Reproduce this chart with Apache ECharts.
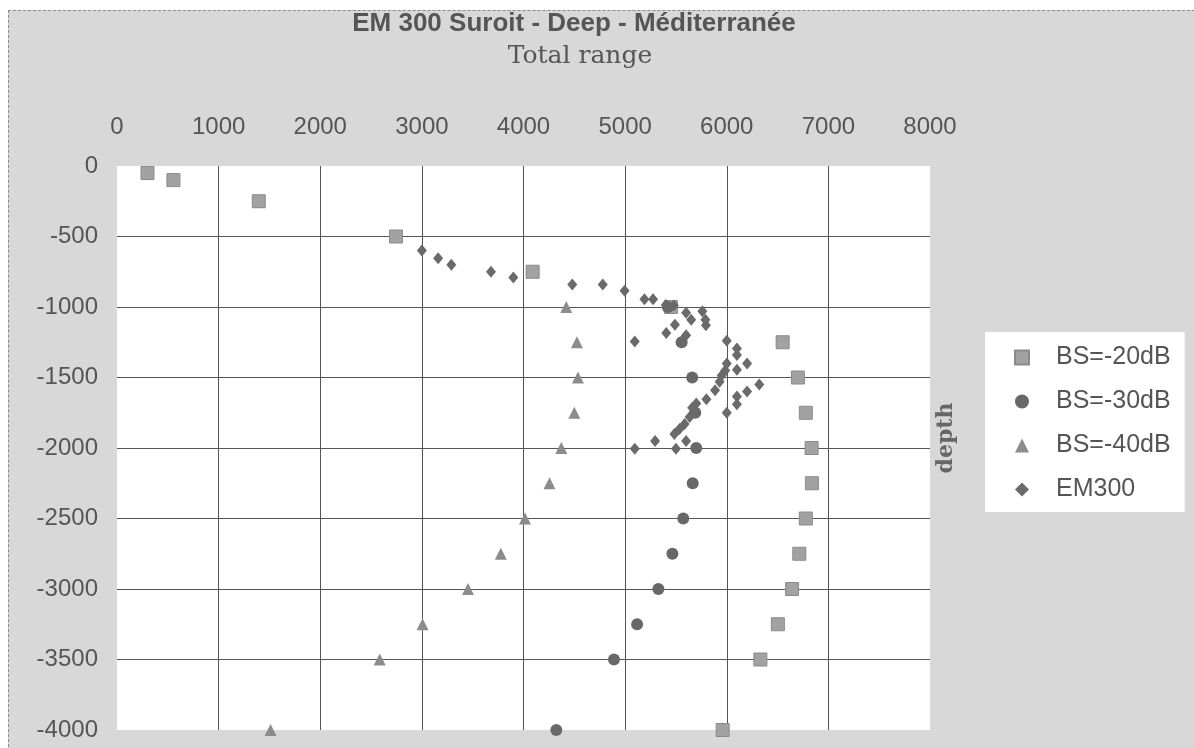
<!DOCTYPE html>
<html>
<head>
<meta charset="utf-8">
<title>EM 300 Suroit - Deep - Méditerranée</title>
<script src="https://cdn.jsdelivr.net/npm/echarts@6/dist/echarts.min.js"></script>
<style>
    html, body { margin: 0; padding: 0; background: #fff; }
    #paper {
        position: absolute; left: 8px; top: 10px; width: 1200px; height: 760px;
        background: #d8d8d8; border: 1px dashed #8a8a8a;
    }
    #chart { position: absolute; left: 0; top: 0; width: 1194px; height: 748px; }
</style>
</head>
<body>
<div id="paper"></div>
<div id="chart"></div>
<script>
'use strict';

// total range (m) / depth (m)
var bs20Range = [300, 555, 1395, 2745, 4090, 5450, 6550, 6700, 6778, 6835, 6838, 6778, 6714, 6643, 6503, 6331, 5960];
var bs20Depth = [-50, -100, -250, -500, -750, -1000, -1250, -1500, -1750, -2000, -2250, -2500, -2750, -3000, -3250, -3500, -4000];

var bs30Range = [5420, 5556, 5660, 5690, 5700, 5665, 5572, 5465, 5327, 5118, 4890, 4323];
var bs30Depth = [-1000, -1250, -1500, -1750, -2000, -2250, -2500, -2750, -3000, -3250, -3500, -4000];

var bs40Range = [4421, 4526, 4536, 4500, 4372, 4256, 4015, 3777, 3454, 3007, 2585, 1511];
var bs40Depth = [-1000, -1250, -1500, -1750, -2000, -2250, -2500, -2750, -3000, -3250, -3500, -4000];

var em300Range = [3000, 3160, 3290, 3680, 3900, 4480, 4780, 4995, 5190, 5275, 5400, 5480, 5600, 5650, 5760,
    5790, 5795, 5490, 5405, 5095, 5600, 5560, 6000, 6100, 6100, 6200, 6000, 6100, 6320, 6200, 6100, 6100,
    6000, 5985, 5950, 5930, 5885, 5800, 5700, 5685, 5660, 5635, 5585, 5535, 5485, 5600, 5500, 5295, 5095];
var em300Depth = [-600, -655, -700, -750, -790, -840, -840, -885, -945, -945, -985, -990, -1040, -1090, -1030,
    -1090, -1130, -1125, -1185, -1245, -1200, -1240, -1240, -1295, -1340, -1400, -1400, -1445, -1550, -1600, -1635, -1690,
    -1750, -1450, -1485, -1530, -1590, -1655, -1685, -1745, -1715, -1780, -1830, -1865, -1900, -1950, -2005, -1950, -2005];

var xTicks = [0, 1000, 2000, 3000, 4000, 5000, 6000, 7000, 8000];
var yTicks = [0, -500, -1000, -1500, -2000, -2500, -3000, -3500, -4000];

var SANS = "'Liberation Sans', Arial, sans-serif";
var SERIF = "'DejaVu Serif', 'Liberation Serif', serif";

function pairs(xs, ys) {
    var out = [];
    for (var i = 0; i < xs.length; i++) {
        out.push([xs[i], ys[i]]);
    }
    return out;
}

// plain numbers, no thousands separator
function plain(v) {
    return String(v);
}

function scatter(name, xs, ys, symbol, size, color, border) {
    return {
        name: name,
        type: 'scatter',
        symbol: symbol,
        symbolSize: size,
        data: pairs(xs, ys),
        itemStyle: {
            color: color,
            opacity: 1,
            borderColor: border || color,
            borderWidth: border ? 1 : 0
        },
        emphasis: {disabled: true}
    };
}

var chart = echarts.init(document.getElementById('chart'));

chart.setOption({
    backgroundColor: 'transparent',
    animation: false,
    title: [{
        text: 'EM 300 Suroit - Deep - Méditerranée',
        left: 574,
        top: 11,
        padding: 0,
        textAlign: 'center',
        textStyle: {fontFamily: SANS, fontWeight: 'bold', fontSize: 26, color: '#555'}
    }, {
        text: 'Total range',
        left: 580,
        top: 44,
        padding: 0,
        textAlign: 'center',
        textStyle: {fontFamily: SERIF, fontWeight: 'normal', fontSize: 25, color: '#555'}
    }],
    legend: {
        orient: 'vertical',
        left: 985,
        top: 332,
        backgroundColor: '#fff',
        padding: [13, 14, 10, 29],
        itemGap: 19,
        itemWidth: 14,
        itemHeight: 14,
        textStyle: {fontFamily: SANS, fontSize: 25, color: '#555', padding: [0, 0, 0, 22]},
        data: ['BS=-20dB', 'BS=-30dB', 'BS=-40dB', 'EM300']
    },
    grid: {
        left: 117,
        right: 264,
        top: 166,
        bottom: 18,
        show: true,
        backgroundColor: '#fff',
        borderWidth: 0
    },
    xAxis: {
        type: 'value',
        position: 'top',
        min: xTicks[0],
        max: xTicks[xTicks.length - 1],
        interval: xTicks[1] - xTicks[0],
        axisLine: {show: false},
        axisTick: {show: false},
        axisLabel: {margin: 27, fontFamily: SANS, fontSize: 24, color: '#555', formatter: plain},
        splitLine: {show: true, showMinLine: false, showMaxLine: false, lineStyle: {color: '#555', width: 1}}
    },
    yAxis: {
        type: 'value',
        min: yTicks[yTicks.length - 1],
        max: yTicks[0],
        interval: yTicks[0] - yTicks[1],
        name: 'depth',
        nameLocation: 'middle',
        nameRotate: 90,
        nameGap: -840,
        nameTextStyle: {fontFamily: SERIF, fontWeight: 'bold', fontSize: 22, color: '#666', padding: [0, 0, 0, 20]},
        axisLine: {show: false},
        axisTick: {show: false},
        axisLabel: {margin: 19, fontFamily: SANS, fontSize: 24, color: '#555', formatter: plain},
        splitLine: {show: true, showMinLine: false, showMaxLine: false, lineStyle: {color: '#555', width: 1}}
    },
    series: [
        scatter('BS=-20dB', bs20Range, bs20Depth, 'rect', 13, '#a2a2a2', '#8a8a8a'),
        scatter('BS=-30dB', bs30Range, bs30Depth, 'circle', 12, '#686868'),
        scatter('BS=-40dB', bs40Range, bs40Depth, 'triangle', 12, '#8c8c8c'),
        scatter('EM300', em300Range, em300Depth, 'diamond', [10, 12], '#6a6a6a')
    ]
});
</script>
</body>
</html>
